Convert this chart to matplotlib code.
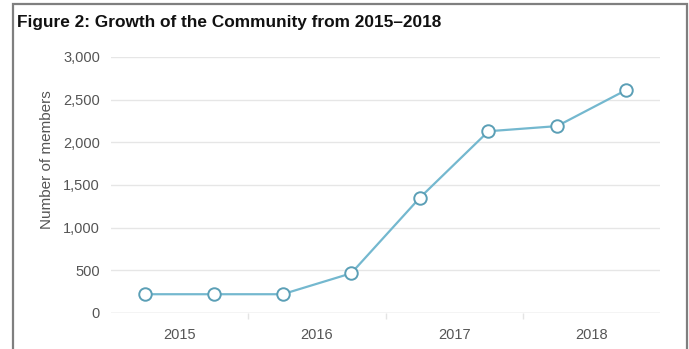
import matplotlib
matplotlib.use('Agg')
import matplotlib.pyplot as plt
from matplotlib.patches import Rectangle
import numpy as np

# half-year readings of community size
years = [2015, 2016, 2017, 2018]
halves = ['H1', 'H2']
members = [220, 220, 220, 465, 1350, 2130, 2190, 2610]

title = 'Figure 2: Growth of the Community from 2015\u20132018'
ylabel = 'Number of members'
yticks = [0, 500, 1000, 1500, 2000, 2500, 3000]

plt.rcParams['font.family'] = ['Liberation Sans', 'DejaVu Sans']

W, H = 689, 349
fig = plt.figure(figsize=(W / 100, H / 100), dpi=100)
ax = fig.add_axes([111 / W, 1 - 313 / H, 549 / W, 256 / H])

# each year is one band, the two halves sit at 1/4 and 3/4 of it
x = [y + (i + 0.5) / len(halves) for y in years for i in range(len(halves))]
ax.plot(x, members, color='#74b8cf', lw=1.6, marker='o', ms=9,
        mfc='white', mec='#5b9fb6', mew=1.4, zorder=3)

ax.set_xlim(years[0], years[-1] + 1)
ax.set_ylim(0, 3000)
ax.set_yticks(yticks)
ax.set_yticklabels([f'{v:,}' for v in yticks])
ax.set_xticks([y + 0.5 for y in years])
ax.set_xticklabels([str(y) for y in years])
ax.set_xticks(years[1:], minor=True)

ax.grid(axis='y', color='#e6e6e6', lw=1)
ax.set_axisbelow(True)
for s in ax.spines.values():
    s.set_visible(False)
ax.axhline(0, color='#dcdcdc', lw=1, zorder=1)

ax.tick_params(axis='y', length=0, pad=8, labelsize=10.5, labelcolor='#555555')
ax.tick_params(axis='x', which='major', length=0, pad=11, labelsize=10.5, labelcolor='#555555')
ax.tick_params(axis='x', which='minor', length=4, width=1, color='#e4e4e4')

fig.text(47 / W, 1 - 160 / H, ylabel, rotation=90, ha='center', va='center',
         fontsize=11, color='#555555')
fig.text(17 / W, 1 - 22 / H, title, ha='left', va='center',
         fontsize=12.4, fontweight='bold', color='#111111')

# grey frame around the figure (open at the bottom)
fig.patches.append(Rectangle((12.5 / W, -0.05), 674 / W, 1 - 3.5 / H + 0.05,
                             transform=fig.transFigure, fill=False,
                             edgecolor='#7f7f7f', lw=1.6))

fig.savefig('out.png', dpi=100)
